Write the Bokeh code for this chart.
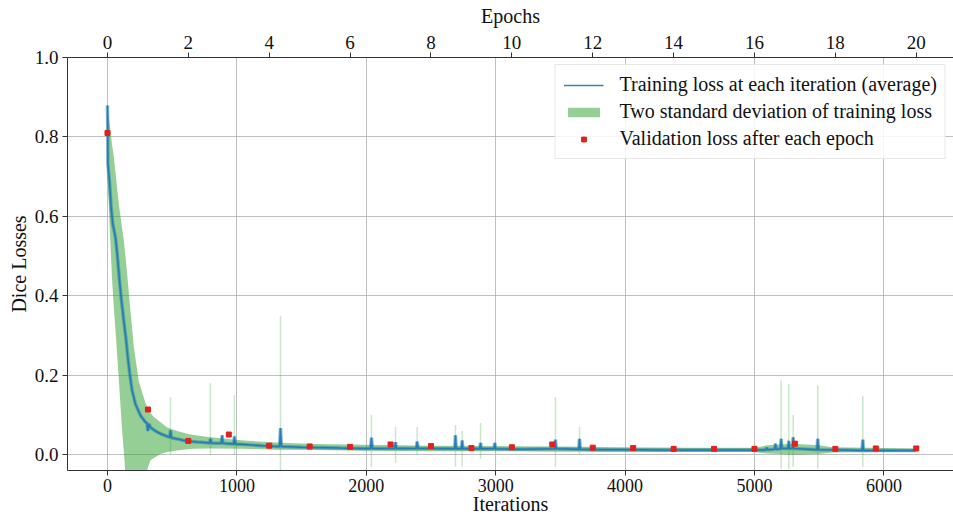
from bokeh.plotting import figure
from bokeh.models import (Range1d, LinearAxis, SingleIntervalTicker, PrintfTickFormatter,
                          Legend, LegendItem)
from bokeh.embed import file_html
from bokeh.resources import INLINE

# ---------------- data ----------------
iters_per_epoch = 312.5
epochs = list(range(0, 21))
val_loss = [0.81, 0.114, 0.035, 0.051, 0.023, 0.021, 0.020, 0.026, 0.022, 0.017, 0.019,
            0.026, 0.018, 0.017, 0.015, 0.015, 0.015, 0.028, 0.015, 0.016, 0.016]

train_iter = [0, 3, 15, 28, 41, 62, 75, 93, 108, 126, 144, 160, 172, 190, 216, 255, 294,
              305, 312, 320, 332, 370, 410, 480, 487, 494, 540, 616, 700, 790, 796, 802,
              880, 886, 892, 975, 981, 987, 1100, 1200, 1311, 1330, 1337, 1344, 1500,
              1698, 1800, 1955, 2033, 2040, 2047, 2220, 2226, 2232, 2386, 2393, 2400,
              2500, 2683, 2689, 2695, 2735, 2741, 2747, 2877, 2883, 2889, 2987, 2993,
              2999, 3200, 3456, 3462, 3468, 3642, 3648, 3654, 3800, 4000, 4300, 4600,
              4900, 5087, 5093, 5100, 5156, 5162, 5168, 5200, 5206, 5212, 5259, 5265,
              5271, 5293, 5299, 5305, 5483, 5489, 5495, 5700, 5831, 5837, 5843, 6000, 6244]
train_mean = [0.879, 0.732, 0.690, 0.623, 0.581, 0.547, 0.506, 0.438, 0.388, 0.338, 0.288,
              0.237, 0.204, 0.162, 0.128, 0.099, 0.082, 0.080, 0.060, 0.078, 0.069, 0.060,
              0.053, 0.044, 0.061, 0.043, 0.040, 0.034, 0.032, 0.030, 0.040, 0.030, 0.029,
              0.049, 0.029, 0.027, 0.046, 0.027, 0.025, 0.023, 0.021, 0.021, 0.067, 0.021,
              0.019, 0.018, 0.017, 0.016, 0.016, 0.043, 0.016, 0.016, 0.032, 0.016, 0.016,
              0.033, 0.016, 0.016, 0.015, 0.049, 0.015, 0.015, 0.036, 0.015, 0.015, 0.030,
              0.015, 0.015, 0.030, 0.015, 0.014, 0.015, 0.038, 0.015, 0.014, 0.040, 0.014,
              0.013, 0.013, 0.012, 0.012, 0.012, 0.012, 0.018, 0.013, 0.014, 0.028, 0.014,
              0.015, 0.040, 0.016, 0.016, 0.035, 0.016, 0.016, 0.044, 0.016, 0.013, 0.040,
              0.013, 0.012, 0.011, 0.038, 0.011, 0.011, 0.011]

band_iter = [0, 3, 18, 23, 36, 49, 62, 88, 113, 126, 139, 152, 178, 204, 242, 294, 332,
             358, 410, 461, 539, 616, 668, 796, 1054, 1300, 1600, 2000, 2500, 3000, 3500,
             4000, 4500, 5000, 5100, 5300, 5500, 5600, 6000, 6244]
band_upper = [0.88, 0.866, 0.83, 0.816, 0.78, 0.75, 0.71, 0.63, 0.57, 0.54, 0.50, 0.455,
              0.36, 0.27, 0.185, 0.13, 0.105, 0.095, 0.082, 0.069, 0.060, 0.053, 0.050,
              0.044, 0.036, 0.031, 0.027, 0.025, 0.023, 0.022, 0.021, 0.019, 0.018, 0.018,
              0.024, 0.028, 0.024, 0.019, 0.017, 0.016]
band_lower = [0.80, 0.69, 0.564, 0.53, 0.438, 0.37, 0.313, 0.187, 0.061, 0.01, -0.05, -0.05,
              -0.05, -0.05, -0.05, -0.05, -0.014, -0.008, 0.002, 0.007, 0.011, 0.014, 0.015,
              0.016, 0.015, 0.013, 0.012, 0.010, 0.009, 0.009, 0.008, 0.008, 0.007, 0.007,
              0.003, 0.0, 0.002, 0.006, 0.007, 0.007]

spike_iter = [487, 796, 981, 1337, 2040, 2226, 2393, 2689, 2741, 2883, 3462, 3648,
              5206, 5265, 5299, 5489, 5837]
spike_low = [0.0, 0.0, 0.0, -0.04, -0.03, -0.02, 0.0, -0.03, -0.03, -0.01, -0.03, 0.0,
             -0.035, -0.035, -0.03, -0.035, -0.03]
spike_high = [0.145, 0.18, 0.15, 0.35, 0.10, 0.07, 0.07, 0.075, 0.06, 0.08, 0.145, 0.07,
              0.187, 0.178, 0.10, 0.175, 0.148]

val_iter = [e * iters_per_epoch for e in epochs]

FONT = "Liberation Serif"
BLUE = "#1f77b4"
GREEN = "#2ca02c"
RED = "#e3211c"

x0, x1 = -309, 6538
p = figure(width=953, height=517, output_backend="svg", toolbar_location=None,
           x_range=Range1d(x0, x1), y_range=Range1d(-0.0395, 1.0),
           min_border_left=67, min_border_right=0, min_border_top=57, min_border_bottom=47)
p.outline_line_color = None
p.background_fill_color = "white"
p.border_fill_color = "white"

p.extra_x_ranges = {"epochs": Range1d(x0 / iters_per_epoch, x1 / iters_per_epoch)}

# band and spikes
band_r = p.varea(x=band_iter, y1=band_lower, y2=band_upper, fill_color=GREEN, fill_alpha=0.5)
p.segment(x0=spike_iter, y0=spike_low, x1=spike_iter, y1=spike_high,
          line_color=GREEN, line_alpha=0.25, line_width=1.5)
# noisy mean line: wide translucent underlay plus thin line
p.line(train_iter, train_mean, line_color="#2a7fb0", line_alpha=0.55, line_width=3.5)
line_r = p.line(train_iter, train_mean, line_color=BLUE, line_alpha=0.9, line_width=1.5)
val_r = p.scatter(val_iter, val_loss, marker="square", size=5, fill_color=RED,
                  line_color=RED)

legend = Legend(items=[
    LegendItem(label="Training loss at each iteration (average)", renderers=[line_r]),
    LegendItem(label="Two standard deviation of training loss", renderers=[band_r]),
    LegendItem(label="Validation loss after each epoch", renderers=[val_r]),
], location="top_right")
legend.label_text_font = FONT
legend.label_text_font_size = "20px"
legend.label_text_color = "#111111"
legend.glyph_width = 40
legend.glyph_height = 12
legend.label_height = 22
legend.spacing = 4
legend.padding = 8
legend.label_standoff = 16
legend.margin = 7
legend.border_line_color = "#d0d0d0"
legend.border_line_width = 1
legend.background_fill_alpha = 0.85
p.add_layout(legend)

# axes
bottom = p.below[0]
left = p.left[0]
bottom.ticker = SingleIntervalTicker(interval=1000)
left.ticker = SingleIntervalTicker(interval=0.2)
left.formatter = PrintfTickFormatter(format="%.1f")
bottom.axis_label = "Iterations"
left.axis_label = "Dice Losses"

top = LinearAxis(x_range_name="epochs", ticker=SingleIntervalTicker(interval=2),
                 axis_label="Epochs")
p.add_layout(top, "above")

for ax in [bottom, left, top]:
    ax.axis_line_color = "#333333"
    ax.axis_line_width = 1
    ax.major_tick_line_color = "#333333"
    ax.major_tick_out = 5
    ax.major_tick_in = 0
    ax.minor_tick_line_color = None
    ax.major_label_text_font = FONT
    ax.major_label_text_font_size = "19px"
    ax.major_label_text_color = "#111111"
    ax.axis_label_text_font = FONT
    ax.axis_label_text_font_size = "20px"
    ax.axis_label_text_font_style = "normal"
    ax.axis_label_text_color = "#111111"
    ax.major_label_standoff = 4
    ax.axis_label_standoff = 2

bottom.major_label_text_font_size = "18px"
bottom.major_label_standoff = 3
bottom.axis_label_standoff = -2
top.axis_label_standoff = 6

p.xgrid.grid_line_color = "#b0b0b0"
p.ygrid.grid_line_color = "#b0b0b0"
p.xgrid.grid_line_width = 1
p.ygrid.grid_line_width = 1
p.xgrid.grid_line_alpha = 0.8
p.ygrid.grid_line_alpha = 0.8

open("out.html", "w").write(file_html(p, INLINE))
